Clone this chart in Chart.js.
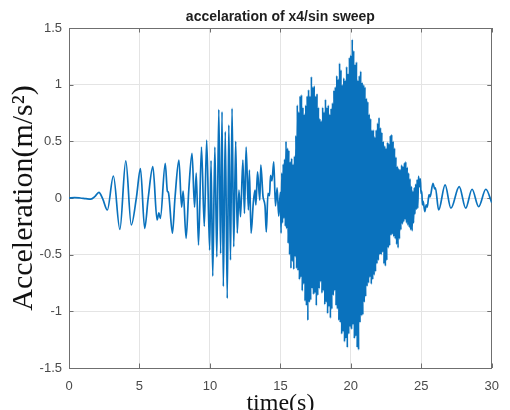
<!DOCTYPE html>
<html>
<head>
<meta charset="utf-8">
<script src="https://cdn.jsdelivr.net/npm/chart.js@4/dist/chart.umd.min.js"></script>
<style>
  html, body { margin: 0; padding: 0; background: #ffffff; overflow: hidden; }
  canvas { display: block; }
</style>
</head>
<body>
<canvas id="sweep" width="510" height="420" style="width:510px;height:420px"></canvas>
<script>
// Acceleration response of x4 under a sine sweep (m/s^2 vs s)

// low-frequency start of the sweep, 0 - 15 s
const startTimes = [0, 0.4, 0.8, 1.2, 1.55, 1.85, 2.12, 2.4, 2.72, 3.15, 3.61, 4.03, 4.42, 4.79, 5.07,
  5.37, 5.62, 5.95, 6.25, 6.38, 6.48, 6.83, 6.98, 7.05, 7.34, 7.52, 7.8, 7.99, 8.10, 8.31, 8.5, 8.73,
  8.91, 9.03, 9.19, 9.4, 9.6, 9.77, 9.98, 10.08, 10.2, 10.35, 10.49, 10.63, 10.76, 10.86, 10.95, 11.09,
  11.23, 11.34, 11.46, 11.57, 11.69, 11.83, 11.94, 12.06, 12.17, 12.34, 12.45, 12.57, 12.73, 12.80,
  12.92, 13.08, 13.2, 13.26, 13.38, 13.54, 13.61, 13.77, 13.91, 14.0, 14.12, 14.23, 14.3, 14.4, 14.53,
  14.65, 14.77, 14.88];
const startAccel = [0, 0.004, 0, -0.006, -0.01, 0.015, 0.05, -0.01, -0.106, 0.194, -0.277, 0.327, -0.238, 0.01, 0.26,
  -0.268, 0.0, 0.276, -0.194, -0.13, -0.18, 0.306, 0.06, 0.05, -0.31, 0.0, 0.335, -0.08, 0.06, -0.356, 0.07, 0.394,
  -0.08, 0.22, -0.415, 0.45, -0.25, 0.51, -0.46, 0.33, -0.69, 0.45, -0.52, 0.78, -0.49, 0.76, -0.78, 0.585,
  -0.885, 0.644, -0.547, 0.79, -0.43, 0.50, -0.31, 0.07, -0.165, 0.335, -0.135, 0.45, -0.106, 0.247,
  -0.31, -0.04, 0.07, -0.06, 0.23, -0.02, 0.29, 0.01, -0.07, -0.30, 0.04, 0.02, 0.2, 0.15, 0.32,
  -0.07, 0.09, -0.16];

// resonance burst, alternating crest / trough every 0.05 s from 15 s
const burstStart = 15.0;
const burstStep = 0.05;
const burstAccel = [
  0.05,-0.31, 0.22,-0.22, 0.30,-0.18, 0.34,-0.25, 0.50,-0.27, 0.44,-0.40, 0.42,-0.50, 0.32,-0.62, 0.35,-0.56, 0.30,-0.63,
  0.37,-0.52, 0.55,-0.62, 0.82,-0.64, 0.76,-0.72, 0.90,-0.70, 0.91,-0.82, 0.80,-0.76, 0.74,-0.91, 0.82,-0.95, 0.90,-1.08,
  0.955,-0.92, 0.90,-0.90, 1.07,-0.80, 0.98,-0.85, 0.99,-0.84, 0.90,-0.95, 0.92,-0.86, 0.80,-0.80, 0.70,-0.74, 0.68,-0.84,
  0.80,-0.82, 0.76,-0.94, 0.87,-0.92, 0.80,-1.02, 0.82,-0.96, 0.74,-1.06, 0.79,-0.98, 0.84,-0.86, 0.95,-0.82, 0.98,-0.95,
  1.08,-0.98, 1.05,-1.08, 1.19,-1.10, 1.13,-1.20, 1.00,-1.18, 1.06,-1.27, 1.04,-1.24, 1.16,-1.32, 1.10,-1.20, 1.24,-1.14,
  1.26,-1.16, 1.40,-1.12, 1.30,-1.24, 1.18,-1.22, 1.20,-1.32, 1.04,-1.34, 1.08,-1.10, 1.12,-1.04, 1.02,-1.03, 1.00,-0.92,
  0.98,-0.87, 0.88,-0.78, 0.85,-0.75, 0.74,-0.70, 0.70,-0.76, 0.60,-0.72, 0.60,-0.68, 0.54,-0.65, 0.60,-0.58, 0.66,-0.55,
  0.71,-0.50, 0.62,-0.50, 0.58,-0.48, 0.50,-0.58, 0.46,-0.60, 0.44,-0.55, 0.49,-0.44, 0.48,-0.42, 0.55,-0.33, 0.56,-0.32,
  0.50,-0.34, 0.44,-0.36, 0.36,-0.41, 0.28,-0.44, 0.26,-0.36, 0.25,-0.28, 0.29,-0.23, 0.28,-0.21, 0.31,-0.19, 0.32,-0.22,
  0.27,-0.24, 0.22,-0.26, 0.17,-0.28, 0.10,-0.29, 0.06,-0.22, 0.09,-0.14, 0.12,-0.10, 0.16,-0.09, 0.19
];

// decaying tail, 24.9 - 30 s
const tailTimes = [24.88, 24.93, 24.98, 25.03, 25.08, 25.13, 25.25, 25.35, 25.42, 25.55, 25.62, 25.83, 25.95, 26.0,
  26.23, 26.69, 27.1, 27.69, 28.15, 28.6, 29.07, 29.58, 30.0];
const tailAccel = [0.10, 0.17, 0.04, 0.06, -0.06, -0.03, -0.12, -0.06, -0.08, 0.03, 0.01, 0.13, 0.08, 0.09,
  -0.106, 0.115, -0.09, 0.10, -0.09, 0.077, -0.077, 0.077, -0.04];

const xTicks = [0, 5, 10, 15, 20, 25, 30];
const yTicks = [-1.5, -1, -0.5, 0, 0.5, 1, 1.5];

const points = [];
startTimes.forEach((t, i) => points.push({ x: t, y: startAccel[i] }));
burstAccel.forEach((a, i) => points.push({ x: +(burstStart + i * burstStep).toFixed(3), y: a }));
tailTimes.forEach((t, i) => points.push({ x: t, y: tailAccel[i] }));

const boxColor = '#6f6f6f';
const gridColor = '#e4e4e4';
const tickTextColor = '#4a4a4a';

// MATLAB-style inward tick marks on all four sides of the axes box
const inwardTicks = {
  id: 'inwardTicks',
  beforeDatasetsDraw(chart) {
    const { ctx, chartArea: a, scales } = chart;
    const len = 4.5;
    ctx.save();
    ctx.strokeStyle = boxColor;
    ctx.lineWidth = 1;
    ctx.beginPath();
    xTicks.forEach(v => {
      const px = Math.round(scales.x.getPixelForValue(v)) + 0.5;
      ctx.moveTo(px, a.bottom); ctx.lineTo(px, a.bottom - len);
      ctx.moveTo(px, a.top); ctx.lineTo(px, a.top + len);
    });
    yTicks.forEach(v => {
      const py = Math.round(scales.y.getPixelForValue(v)) + 0.5;
      ctx.moveTo(a.left, py); ctx.lineTo(a.left + len, py);
      ctx.moveTo(a.right, py); ctx.lineTo(a.right - len, py);
    });
    ctx.stroke();
    ctx.restore();
  }
};

new Chart(document.getElementById('sweep'), {
  type: 'line',
  data: {
    datasets: [{
      data: points,
      borderColor: '#0a72bd',
      borderWidth: 1.7,
      pointRadius: 0,
      fill: false,
      cubicInterpolationMode: 'monotone'
    }]
  },
  options: {
    responsive: false,
    animation: false,
    devicePixelRatio: 1,
    layout: { padding: 0 },
    plugins: { legend: { display: false }, tooltip: { enabled: false }, title: { display: false } },
    scales: {
      x: {
        type: 'linear', position: 'bottom', min: 0, max: 30,
        afterBuildTicks: s => { s.ticks = xTicks.map(v => ({ value: v })); },
        ticks: { color: tickTextColor, font: { family: 'Liberation Sans', size: 13 }, padding: 11, maxRotation: 0,
                 callback: v => String(v) },
        grid: { color: gridColor, drawTicks: false },
        border: { display: true, color: boxColor },
        title: { display: true, text: 'time(s)', color: '#111111',
                 font: { family: 'Liberation Serif', size: 24, lineHeight: 1 }, padding: { top: 0, bottom: 4 } },
        afterFit: s => { s.height = 52; }
      },
      xTop: {
        type: 'linear', position: 'top', min: 0, max: 30,
        ticks: { display: false },
        grid: { drawOnChartArea: false, drawTicks: false },
        border: { display: true, color: boxColor },
        title: { display: true, text: 'accelaration of x4/sin sweep', color: '#1e1e1e',
                 font: { family: 'Liberation Sans', size: 14, weight: 'bold', lineHeight: 1 }, padding: { top: 10, bottom: 0 } },
        afterFit: s => { s.height = 28; }
      },
      y: {
        type: 'linear', position: 'left', min: -1.5, max: 1.5,
        afterBuildTicks: s => { s.ticks = yTicks.map(v => ({ value: v })); },
        ticks: { color: tickTextColor, font: { family: 'Liberation Sans', size: 13 }, padding: 7,
                 callback: v => String(v) },
        grid: { color: gridColor, drawTicks: false },
        border: { display: true, color: boxColor },
        title: { display: true, text: 'Acceleration(m/s²)', color: '#111111',
                 font: { family: 'Liberation Serif', size: 30, lineHeight: 1 }, padding: { top: 9, bottom: 0 } },
        afterFit: s => { s.width = 69; }
      },
      yRight: {
        type: 'linear', position: 'right', min: -1.5, max: 1.5,
        ticks: { display: false },
        grid: { drawOnChartArea: false, drawTicks: false },
        border: { display: true, color: boxColor },
        afterFit: s => { s.width = 9; }
      }
    }
  },
  plugins: [inwardTicks]
});
</script>
</body>
</html>
